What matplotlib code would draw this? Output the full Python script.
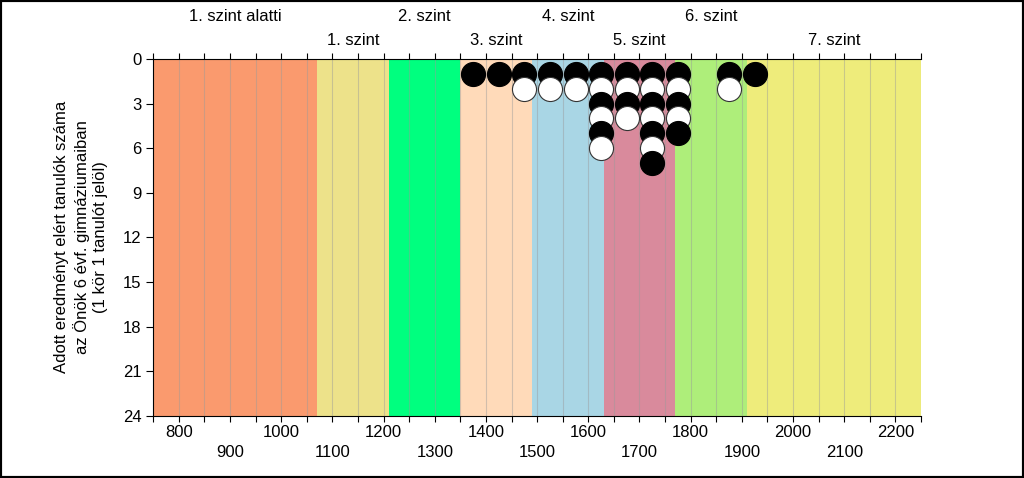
import matplotlib.pyplot as plt
import matplotlib.patches as mpatches

plt.rcParams['font.family'] = ['Liberation Sans', 'DejaVu Sans']

# szintek hatarai es nevei
szint_hatarok = [750, 1070, 1210, 1350, 1490, 1630, 1770, 1910, 2250]
szint_nevek = ["1. szint alatti", "1. szint", "2. szint", "3. szint",
               "4. szint", "5. szint", "6. szint", "7. szint"]
szint_szinek = ["#FA9A6E", "#EDE28A", "#00FF7F", "#FFDAB9",
                "#A9D6E5", "#D98A9C", "#AEEE7A", "#EEEC7B"]

# pontszam-savok kozepe es a tanulok szama
pontok = [1375, 1425, 1475, 1525, 1575, 1625, 1675, 1725, 1775, 1875, 1925]
tanulok = [1, 1, 2, 2, 2, 6, 4, 7, 5, 2, 1]

fig = plt.figure(figsize=(10.24, 4.78), dpi=100)
ax = fig.add_axes([0.1497, 0.1303, 0.7497, 0.7463])

# hatter savok
for i in range(len(szint_nevek)):
    ax.axvspan(szint_hatarok[i], szint_hatarok[i + 1], color=szint_szinek[i], lw=0, zorder=0)
for x in range(750, 2251, 50):
    ax.axvline(x, color="#9a9a9a", lw=0.8, alpha=0.45, zorder=1)

# korok: paratlan sor fekete, paros sor feher
max_db = max(tanulok)
for k in range(1, max_db + 1):
    xs = [p for p, n in zip(pontok, tanulok) if n >= k]
    ys = [k] * len(xs)
    if k % 2 == 1:
        ax.scatter(xs, ys, s=300, c="black", edgecolors="black", linewidths=0.8, zorder=2 + k, clip_on=False)
    else:
        ax.scatter(xs, ys, s=300, c="white", edgecolors="#333333", linewidths=0.8, zorder=2 + k, clip_on=False)

ax.set_xlim(750, 2250)
ax.set_ylim(24, 0)
ax.set_yticks(range(0, 25, 3))
ax.set_xticks(range(800, 2201, 200))
ax.set_xticks(range(750, 2251, 50), minor=True)
ax.tick_params(axis="x", which="both", top=True, direction="out", length=4, width=0.8, labelsize=12, pad=3)
ax.tick_params(axis="y", direction="out", length=5, width=0.8, labelsize=12)
ax.spines["right"].set_visible(False)

# masodik sor a tengelyfeliratoknak
sec = ax.secondary_xaxis("bottom")
sec.set_xticks(range(900, 2101, 200))
sec.tick_params(length=0, labelsize=12, pad=21)
sec.spines["bottom"].set_visible(False)

# szint nevek felul, ket sorban
for i, nev in enumerate(szint_nevek):
    kozep = (szint_hatarok[i] + szint_hatarok[i + 1]) / 2
    y = 1.118 if i % 2 == 0 else 1.053
    ax.text(kozep, y, nev, transform=ax.get_xaxis_transform(), ha="center", va="center", fontsize=12)

fig.text(0.079, 0.504, "Adott eredményt elért tanulók száma\naz Önök 6 évf. gimnáziumaiban\n(1 kör 1 tanulót jelöl)",
         rotation=90, ha="center", va="center", multialignment="center", fontsize=12, linespacing=1.3)

# keret a kep korul
fig.patches.append(mpatches.Rectangle((0, 0), 1, 1, transform=fig.transFigure, fill=False,
                                      edgecolor="black", lw=3))

plt.savefig("out.png", dpi=100)
